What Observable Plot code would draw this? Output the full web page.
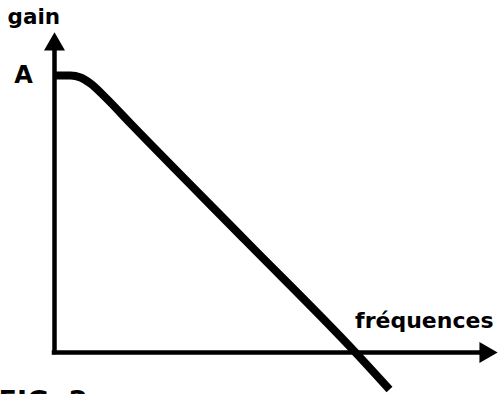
<!DOCTYPE html>
<html><head><meta charset="utf-8">
<script src="https://cdn.jsdelivr.net/npm/d3@7"></script>
<script src="https://cdn.jsdelivr.net/npm/@observablehq/plot@0.6"></script>
<style>body{margin:0;background:#fff} svg{display:block}</style>
</head><body><div id="chart"></div>
<script>
// Low-pass response: gain vs frequency (arbitrary units)
const freq = [0, 1.6, 2.6, 3.6, 5.1, 7.6, 19.1, 30.1, 33.5];
const gain = [27.7, 27.7, 27.5, 26.9, 25.5, 22.9, 11.2, 0, -3.7];
const yAxisLabel = "gain";
const xAxisLabel = "fréquences";
const levelLabel = "A";
const figLabel = "FIG. 2";

const curve = freq.map((f, i) => ({f, g: gain[i]}));
const yAxisTop = 31;      // end of the gain axis (arrow)
const xAxisEnd = 43;      // end of the frequency axis (arrow)
const font = "'DejaVu Sans', sans-serif";

const chart = Plot.plot({
  width: 498,
  height: 394,
  margin: 0,
  x: {domain: [-5.4, 44.4], axis: null},
  y: {domain: [-4.2, 35.2], axis: null},
  style: {background: "#fff", fontFamily: font},
  marks: [
    Plot.ruleX([0], {y1: 0, y2: yAxisTop, stroke: "#000", strokeWidth: 4.5, strokeLinecap: "square"}),
    Plot.ruleY([0], {x1: 0, x2: xAxisEnd, stroke: "#000", strokeWidth: 4.5, strokeLinecap: "square"}),
    Plot.dot([{x: 0, y: yAxisTop - 0.2}], {x: "x", y: "y", symbol: "triangle", r: 7.8, fill: "#000", stroke: "none"}),
    Plot.dot([{x: xAxisEnd + 0.1, y: 0}], {x: "x", y: "y", symbol: "triangle", r: 7.8, rotate: 90, fill: "#000", stroke: "none"}),
    Plot.line(curve, {x: "f", y: "g", curve: "monotone-x", stroke: "#000", strokeWidth: 8, strokeLinecap: "butt", strokeLinejoin: "round"}),
    Plot.text([yAxisLabel], {x: -4.7, y: 32.9, text: d => d, textAnchor: "start", lineAnchor: "bottom", fontSize: 21.5, fontWeight: "bold", fill: "#000"}),
    Plot.text([levelLabel], {x: -3.1, y: gain[0], text: d => d, textAnchor: "middle", lineAnchor: "middle", fontSize: 24, fontWeight: "bold", fill: "#000"}),
    Plot.text([xAxisLabel], {x: 43.9, y: 2.5, text: d => d, textAnchor: "end", lineAnchor: "bottom", fontSize: 22, fontWeight: "bold", fill: "#000"}),
    Plot.text([figLabel], {x: -5.6, y: -5.75, text: d => d, textAnchor: "start", lineAnchor: "bottom", fontSize: 27, fontWeight: "bold", fill: "#000"})
  ]
});
document.getElementById("chart").append(chart);
</script>
</body></html>
